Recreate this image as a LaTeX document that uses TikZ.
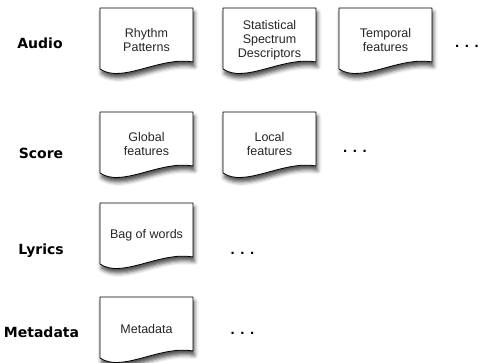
\documentclass[tikz,border=0pt]{standalone}
\usepackage{fontspec}
\setmainfont{Liberation Sans}
\newfontfamily\labelfont{DejaVu Sans}
\usetikzlibrary{shadows.blur}
\tikzset{doctext/.style = {font=\fontsize{12.5}{14}\selectfont, text=black!85, align=center}}
\tikzset{rowlabel/.style = {font=\labelfont\bfseries\fontsize{14}{16}\selectfont}}
\tikzset{moredots/.style = {font=\bfseries\fontsize{15}{16}\selectfont, inner sep=1pt}}
\tikzset{docshape/.style = {draw=black, line width=0.8pt, fill=white,
						 blur shadow={shadow xshift=1.5pt, shadow yshift=-4.5pt,
						 shadow blur radius=4pt, shadow opacity=70}}}
\tikzset{doc/.pic = {\draw[docshape] (0,0) -- (93,0) -- (93,54)
						 .. controls (60,48) and (22,76) .. (0,61) -- cycle;}}

\begin{document}
\begin{tikzpicture}[x=1pt, y=-1pt, line cap=round, line join=round]
		\useasboundingbox (0,0) rectangle (478,362);

		% Documents
		\foreach \x/\y/\name/\txt in {100/8/rhythm/{Rhythm\\Patterns},
				223/8/ssd/{Statistical\\Spectrum\\Descriptors},
				339/8/temporal/{Temporal\\features},
				100/112/global/{Global\\features},
				223/112/local/{Local\\features},
				100/203/bow/{Bag of words},
				100/297/meta/{Metadata}}
		{
			\pic at (\x,\y) {doc};
			\node[doctext] (\name) at (\x+46.5,\y+32) {\txt};
		}

		% Labels
		\node[rowlabel] (audio) at (40,43) {Audio};
		\node[rowlabel] (score) at (41,153) {Score};
		\node[rowlabel] (lyrics) at (41,251) {Lyrics};
		\node[rowlabel] (metadata) at (41.5,332) {Metadata};

		% Dots
		\node[moredots] (audiodots) at (467,46) {. . .};
		\node[moredots] (scoredots) at (355,151) {. . .};
		\node[moredots] (lyricsdots) at (242.5,253) {. . .};
		\node[moredots] (metadots) at (242.5,333) {. . .};
	\end{tikzpicture}
\end{document}
